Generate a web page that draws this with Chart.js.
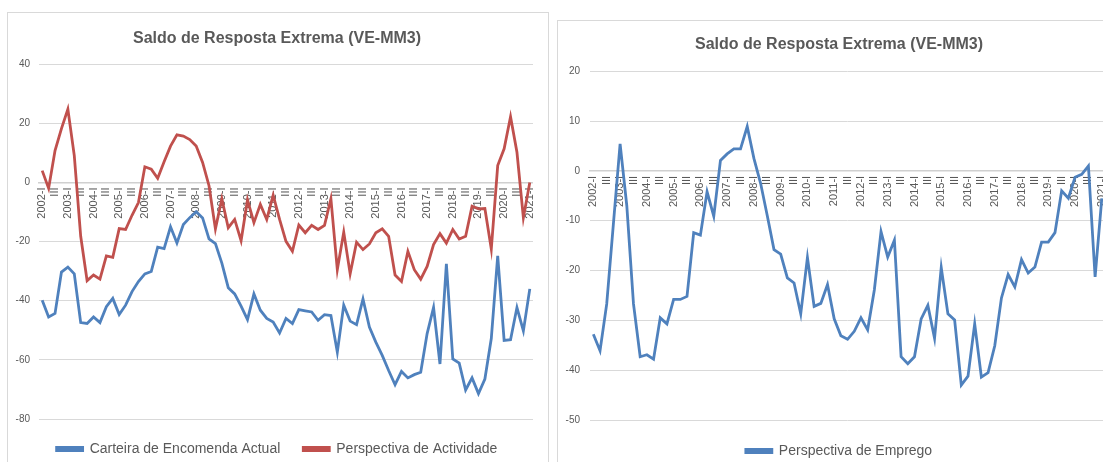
<!DOCTYPE html>
<html>
<head>
<meta charset="utf-8">
<script src="https://cdn.jsdelivr.net/npm/chart.js@4.4.1/dist/chart.umd.min.js"></script>
<style>
  body { margin: 0; background: #fff; width: 1103px; height: 462px; overflow: hidden; position: relative; }
  .painel { position: absolute; border: 1px solid #d9d9d9; background: #fff; overflow: hidden; }
  #painelEsq { left: 7px; top: 12px; width: 540px; height: 480px; }
  #painelDir { left: 557px; top: 20px; width: 570px; height: 480px; border-right: none; }
  canvas { display: block; }
</style>
</head>
<body>
<div class="painel" id="painelEsq"><canvas id="graficoActividade" width="540" height="453"></canvas></div>
<div class="painel" id="painelDir"><canvas id="graficoEmprego" width="562" height="447"></canvas></div>
<script>
const anos = [2002, 2003, 2004, 2005, 2006, 2007, 2008, 2009, 2010, 2011, 2012, 2013, 2014, 2015, 2016, 2017, 2018, 2019, 2020, 2021];
const trimestres = ["I", "II", "III", "IV"];

// categorias trimestrais 2002-I ... 2021-I
const categorias = [];
anos.forEach((ano) => trimestres.forEach((t, i) => {
    if (ano < 2021 || i === 0) categorias.push(i === 0 ? ano + "-" + t : t);
}));

const carteiraEncomenda = [-39.8, -45.5, -44.3, -30.3, -28.6, -30.9, -47.4, -47.7, -45.5, -47.4, -42, -39.2, -44.7, -41.5, -36.9, -33.5, -30.9, -30.1, -21.9, -22.4, -15, -20.5, -14.2, -11.9, -9.9, -12, -19.1, -20.7, -27.3, -35.6, -37.7, -41.8, -46.4, -37.7, -43.2, -46, -47.2, -50.9, -46, -47.7, -43, -43.4, -43.8, -46.6, -44.7, -45, -57.4, -41.5, -46.9, -48.1, -39.4, -48.9, -54, -58.5, -63.6, -68.4, -63.9, -66.1, -65, -64.2, -51.1, -42.3, -61.4, -27.5, -59.7, -61.1, -70.2, -66.1, -71.4, -66.5, -52.8, -24.8, -53.4, -53.2, -42.3, -50.2, -36];
const perspectivaActividade = [4, -2, 10.8, 18.2, 24.8, 9.1, -18.2, -33.2, -31.3, -32.7, -24.8, -25.3, -15.6, -15.9, -11.1, -6.8, 5.3, 4.5, 1.4, 7, 12.3, 16.1, 15.7, 14.5, 12.3, 6.8, -1.1, -15.7, -5.5, -15.3, -12.5, -19.7, -5.9, -13.6, -7.4, -12.5, -4.3, -12.5, -19.9, -23.3, -14.4, -17, -14.5, -15.9, -14.5, -5.5, -29.5, -16.8, -30.9, -20.2, -22.7, -20.8, -17, -15.7, -18.2, -31.3, -33.5, -23.3, -29.5, -32.7, -28.4, -21, -17.3, -20.5, -15.9, -19.1, -18.2, -8, -8.9, -8.8, -22.5, 5.7, 11.4, 22.2, 10.2, -11.9, 0];
const perspectivaEmprego = [-32.8, -36.1, -26.7, -10.6, 5.4, -7, -26.7, -37.3, -36.9, -37.8, -29.5, -30.7, -25.8, -25.8, -25.2, -12.4, -12.9, -4.2, -9.1, 2.1, 3.4, 4.4, 4.4, 8.9, 2.5, -2.5, -9, -15.8, -16.7, -21.5, -22.5, -28.7, -17.4, -27.2, -26.6, -22.8, -29.7, -33.1, -33.8, -32.2, -29.5, -31.9, -23.9, -12.2, -17.3, -13.9, -37.3, -38.7, -37.3, -29.7, -27, -33.6, -19.4, -28.7, -29.9, -43, -41.2, -30.7, -41.4, -40.5, -35.1, -25.5, -20.8, -23.3, -17.8, -20.5, -19.3, -14.3, -14.3, -12.4, -4, -5.5, -1.3, -0.7, 1, -21.3, -5.5];

const titulo = "Saldo de Resposta Extrema (VE-MM3)";
const azul = "#4f81bd";
const vermelho = "#c0504d";
const cinzaTexto = "#595959";
const fonte = "'Liberation Sans', Arial, sans-serif";

function serie(label, dados, cor) {
    return {
        label: label,
        data: dados,
        borderColor: cor,
        backgroundColor: cor,
        borderWidth: 2.8,
        pointRadius: 0,
        tension: 0
    };
}

function construirGrafico(canvas, datasets, yMin, yMax, passo, cfg) {
    return new Chart(canvas, {
        type: 'line',
        data: { labels: categorias, datasets: datasets },
        options: {
            responsive: false,
            animation: false,
            layout: { padding: { left: 0, right: cfg.padDir, top: 0, bottom: 0 } },
            plugins: {
                title: {
                    display: true,
                    text: titulo,
                    color: cinzaTexto,
                    font: { family: fonte, size: 16, weight: 'bold' },
                    padding: { top: cfg.tituloTopo, bottom: cfg.tituloBaixo }
                },
                legend: {
                    position: 'bottom',
                    labels: {
                        color: cinzaTexto,
                        font: { family: fonte, size: 14 },
                        boxWidth: 26,
                        boxHeight: 3,
                        padding: cfg.padLegenda
                    }
                },
                tooltip: { enabled: false }
            },
            scales: {
                x: {
                    position: { y: 0 },
                    offset: true,
                    grid: { display: false, drawTicks: false },
                    border: { display: true, color: '#d0d0d0', width: 1.5 },
                    ticks: {
                        autoSkip: false,
                        maxRotation: 90,
                        minRotation: 90,
                        padding: 5,
                        color: cinzaTexto,
                        font: { family: fonte, size: 11 },
                        callback: function (valor, indice) {
                            return indice % 2 === 0 ? this.getLabelForValue(valor) : '';
                        }
                    }
                },
                y: {
                    min: yMin,
                    max: yMax,
                    grid: { color: '#d9d9d9', lineWidth: 1, drawTicks: false },
                    border: { display: false },
                    ticks: {
                        stepSize: passo,
                        padding: cfg.padRotulo,
                        color: cinzaTexto,
                        font: { family: fonte, size: 10 }
                    },
                    afterFit: (escala) => { escala.width = cfg.larguraY; }
                }
            }
        }
    });
}

construirGrafico(document.getElementById('graficoActividade'), [
    serie("Carteira de Encomenda Actual", carteiraEncomenda, azul),
    serie("Perspectiva de Actividade", perspectivaActividade, vermelho)
], -80, 40, 20, { padDir: 2, padLegenda: 23, tituloTopo: 16, tituloBaixo: 16, padRotulo: 9, larguraY: 31 });

construirGrafico(document.getElementById('graficoEmprego'), [
    serie("Perspectiva de Emprego", perspectivaEmprego, azul)
], -50, 20, 10, { padDir: 0, padLegenda: 24, tituloTopo: 14, tituloBaixo: 17, padRotulo: 10, larguraY: 32 });
</script>
</body>
</html>
